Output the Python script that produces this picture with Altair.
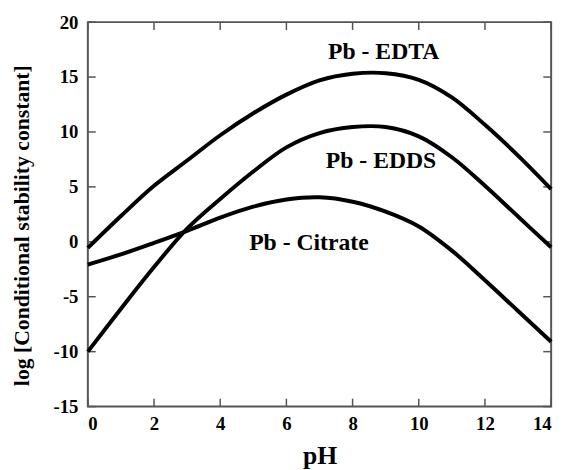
import altair as alt
import pandas as pd

# ---- data ----
ph = [0, 1, 2, 3, 4, 5, 6, 7, 8, 9, 10, 11, 12, 13, 14]
edta = [-0.55, 2.35, 5.1, 7.4, 9.7, 11.7, 13.4, 14.7, 15.3, 15.35, 14.75, 13.15, 10.65, 7.85, 4.8]
edds = [-10.0, -6.1, -2.3, 1.2, 3.9, 6.4, 8.6, 9.9, 10.45, 10.45, 9.6, 7.7, 5.1, 2.3, -0.5]
citrate = [-2.07, -1.15, -0.1, 1.0, 2.2, 3.2, 3.85, 4.05, 3.65, 2.75, 1.4, -0.8, -3.5, -6.3, -9.1]

label_text = ["Pb - EDTA", "Pb - EDDS", "Pb - Citrate"]
label_ph = [8.94, 8.86, 6.68]
label_val = [16.6, 6.75, -0.73]

x_ticks = [0, 2, 4, 6, 8, 10, 12, 14]
y_ticks = [-15, -10, -5, 0, 5, 10, 15, 20]

W, H = 470, 390
FONT = "'Liberation Serif', 'Times New Roman', Times, serif"
FRAME = "#555555"

rows = []
for name, vals in [("EDTA", edta), ("EDDS", edds), ("Citrate", citrate)]:
    for p, v in zip(ph, vals):
        rows.append({"series": name, "pH": p, "val": v})
curves = pd.DataFrame(rows)
labels = pd.DataFrame({"text": label_text, "pH": label_ph, "val": label_val})
xt = pd.DataFrame({"t": x_ticks})
yt = pd.DataFrame({"t": y_ticks})

xscale = alt.Scale(domain=[0, 14], nice=False, zero=False)
yscale = alt.Scale(domain=[-15, 20], nice=False, zero=False)

xaxis = alt.Axis(values=x_ticks, ticks=False, domain=False, grid=False,
                 labelExpr="'' + datum.value",
                 labelFont=FONT, labelFontWeight="bold", labelFontSize=19,
                 labelColor="black", labelPadding=8,
                 title="pH", titleFont=FONT, titleFontWeight="bold",
                 titleFontSize=26, titleColor="black",
                 titleBaseline="alphabetic", titleY=58)
yaxis = alt.Axis(values=y_ticks, ticks=False, domain=False, grid=False,
                 labelExpr="'' + datum.value",
                 labelFont=FONT, labelFontWeight="bold", labelFontSize=19,
                 labelColor="black", labelPadding=10,
                 title="log [Conditional stability constant]", titleFont=FONT,
                 titleFontWeight="bold", titleFontSize=22, titleColor="black",
                 titleAngle=270, titleBaseline="alphabetic", titleX=-60, titleY=206,
                 titleAlign="center")

lines = alt.Chart(curves).mark_line(color="black", strokeWidth=4, interpolate="catmull-rom").encode(
    x=alt.X("pH:Q", scale=xscale, axis=xaxis),
    y=alt.Y("val:Q", scale=yscale, axis=yaxis),
    detail="series:N",
)

texts = alt.Chart(labels).mark_text(font=FONT, fontWeight="bold", fontSize=24,
                                    align="center", baseline="alphabetic", color="black").encode(
    x=alt.X("pH:Q", scale=xscale),
    y=alt.Y("val:Q", scale=yscale),
    text="text:N",
)

tick_style = dict(color=FRAME, strokeWidth=1.5)
left_t = alt.Chart(yt).mark_rule(**tick_style).encode(
    y=alt.Y("t:Q", scale=yscale), x=alt.value(0), x2=alt.value(8))
right_t = alt.Chart(yt).mark_rule(**tick_style).encode(
    y=alt.Y("t:Q", scale=yscale), x=alt.value(W - 8), x2=alt.value(W))
bot_t = alt.Chart(xt).mark_rule(**tick_style).encode(
    x=alt.X("t:Q", scale=xscale), y=alt.value(H), y2=alt.value(H - 8))
top_t = alt.Chart(xt).mark_rule(**tick_style).encode(
    x=alt.X("t:Q", scale=xscale), y=alt.value(0), y2=alt.value(8))

chart = alt.layer(left_t, right_t, bot_t, top_t, lines, texts).properties(
    width=W, height=H,
    autosize=alt.AutoSizeParams(type="none"),
    padding={"left": 81, "top": 11, "right": 10, "bottom": 60},
).configure_view(stroke=FRAME, strokeWidth=2)

chart.save("out.html", embed_options={"renderer": "svg", "actions": False})
